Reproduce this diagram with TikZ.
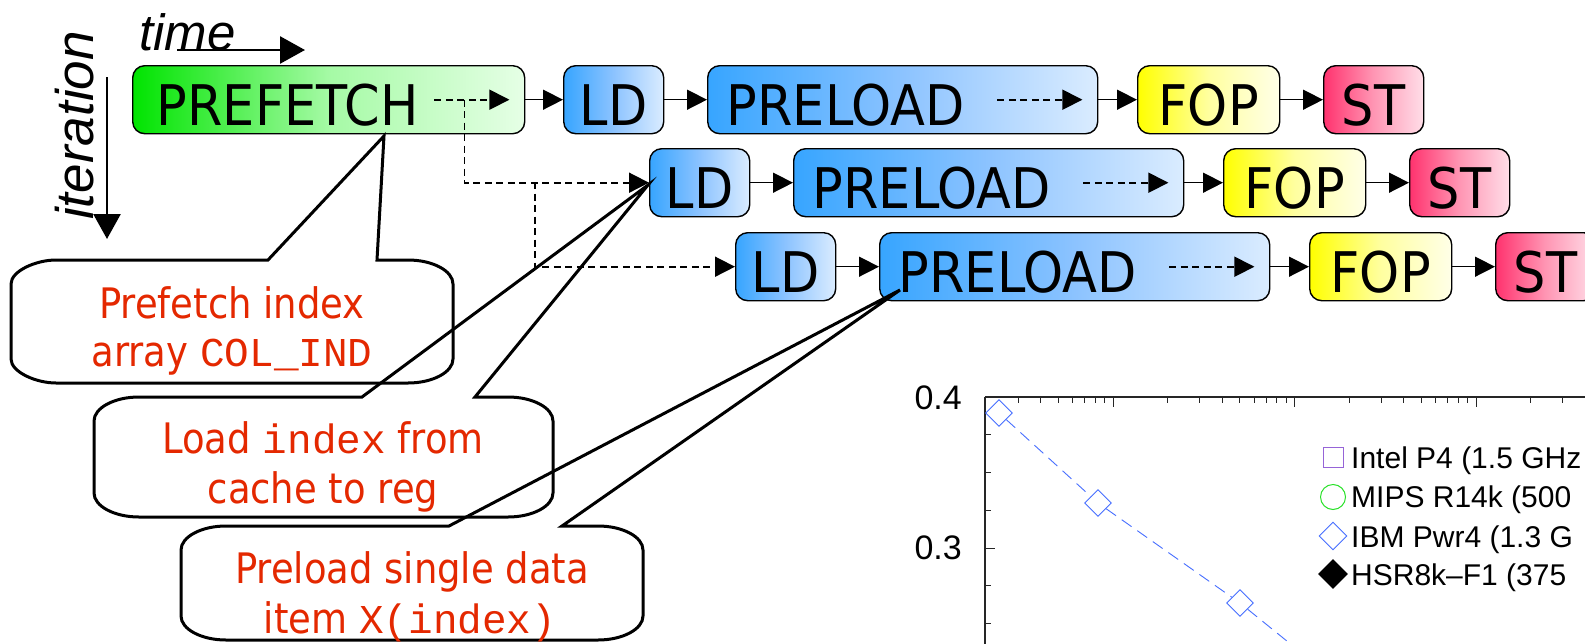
\documentclass[tikz,border=0pt]{standalone}
\usepackage{fontspec}
\setmainfont{Liberation Sans}
\newfontfamily\boxfont[FakeStretch=0.91]{DejaVu Sans}
\newfontfamily\callfont[FakeStretch=0.88]{DejaVu Sans}
\newfontfamily\codefont{Liberation Mono}
\usetikzlibrary{arrows.meta,shapes.geometric}
\definecolor{pfL}{RGB}{0,228,0}
\definecolor{pfM}{RGB}{165,250,165}
\definecolor{pfR}{RGB}{230,255,230}
\definecolor{blL}{RGB}{55,165,255}
\definecolor{blM}{RGB}{140,195,255}
\definecolor{blR}{RGB}{218,236,255}
\definecolor{yeL}{RGB}{255,255,0}
\definecolor{yeM}{RGB}{255,255,160}
\definecolor{yeR}{RGB}{255,255,232}
\definecolor{stL}{RGB}{255,50,110}
\definecolor{stM}{RGB}{255,150,180}
\definecolor{stR}{RGB}{255,222,232}
\definecolor{callred}{RGB}{228,40,0}
\definecolor{plotblue}{RGB}{70,110,255}
\definecolor{plotpurple}{RGB}{150,100,215}
\definecolor{plotgreen}{RGB}{40,225,40}
\newcommand{\codetxt}[1]{{\codefont\fontsize{41}{41}\selectfont #1}}
\begin{document}
\begin{tikzpicture}[x=1pt,y=-1pt,
 stage/.style={draw=black, line width=1.4pt, rounded corners=12pt, minimum height=68pt,
   inner ysep=0pt, anchor=north west, font=\boxfont\fontsize{56}{56}\selectfont,
   text height=51pt, text depth=0pt},
 cstage/.style={stage, inner xsep=0pt, align=center},
 pfshade/.style={left color=pfL, right color=pfR, middle color=pfM},
 ldshade/.style={left color=blL, right color=blR, middle color=blM},
 fopshade/.style={left color=yeL, right color=yeR, middle color=yeM},
 stshade/.style={left color=stL, right color=stR, middle color=stM},
 conn/.style={line width=1.5pt, -{Triangle[length=20pt,width=20pt]}},
 dconn/.style={conn, line width=1.7pt, dash pattern=on 7pt off 4.5pt},
 bigarrow/.style={line width=2.6pt, -{Triangle[length=25pt,width=27pt]}},
 callout/.style={line width=3pt},
 calltext/.style={text=callred, anchor=base, inner sep=0pt, font=\callfont\fontsize{42}{42}\selectfont},
 dia/.style={diamond, draw=plotblue, fill=white, line width=0.9pt, minimum width=27pt, minimum height=27pt, inner sep=0pt},
 legtext/.style={anchor=base west, inner sep=0pt, font=\fontsize{30}{30}\selectfont},
 ylab/.style={anchor=east, inner sep=0pt, font=\fontsize{34}{34}\selectfont},
 axisline/.style={line width=1.1pt, black!85},
]
\useasboundingbox (0,0) rectangle (1585,643);
\fill[white] (0,0) rectangle (1585,643);

% axes labels
\node[anchor=base west, inner sep=0pt, font=\itshape\fontsize{51}{51}\selectfont] (time) at (139,50) {time};
\node[rotate=90, anchor=base west, inner sep=0pt, font=\itshape\fontsize{53}{53}\selectfont] (iter) at (93,220) {iteration};
\coordinate (ta1) at (177,50);
\coordinate (ta2) at (305,50);
\draw[bigarrow] (ta1) -- (ta2);
\coordinate (ia1) at (107,77);
\coordinate (ia2) at (107,239);
\draw[bigarrow] (ia1) -- (ia2);

% row 1
\node[stage, pfshade, inner xsep=24pt, text width=344pt, align=left] (pf) at (132,65) {PREFETCH};
\node[cstage, ldshade, minimum width=100pt] (ld1) at (563,65) {LD};
\node[stage, ldshade, inner xsep=19pt, text width=352pt, align=left] (pl1) at (707,65) {PRELOAD};
\node[cstage, fopshade, minimum width=142pt] (fop1) at (1137,65) {FOP};
\node[cstage, stshade, minimum width=100pt] (st1) at (1323,65) {ST};
% row 2
\node[cstage, ldshade, minimum width=100pt] (ld2) at (649,148) {LD};
\node[stage, ldshade, inner xsep=19pt, text width=352pt, align=left] (pl2) at (793,148) {PRELOAD};
\node[cstage, fopshade, minimum width=142pt] (fop2) at (1223,148) {FOP};
\node[cstage, stshade, minimum width=100pt] (st2) at (1409,148) {ST};
% row 3
\node[cstage, ldshade, minimum width=100pt] (ld3) at (735,232) {LD};
\node[stage, ldshade, inner xsep=19pt, text width=352pt, align=left] (pl3) at (879,232) {PRELOAD};
\node[cstage, fopshade, minimum width=142pt] (fop3) at (1309,232) {FOP};
\node[cstage, stshade, minimum width=100pt] (st3) at (1495,232) {ST};

% connectors
\draw[conn] (pf.east) -- (ld1.west);
\foreach \i in {1,2,3}{
  \draw[conn] (ld\i.east) -- (pl\i.west);
  \draw[conn] (pl\i.east) -- (fop\i.west);
  \draw[conn] (fop\i.east) -- (st\i.west);
  \draw[dconn] ([xshift=-101pt]pl\i.east) -- ([xshift=-16pt]pl\i.east);
}
\coordinate (pfd1) at ([xshift=-91pt]pf.east);
\coordinate (pfd2) at ([xshift=-16pt]pf.east);
\draw[dconn] (pfd1) -- (pfd2);
\coordinate (pfbr) at ([xshift=-61pt]pf.east);
\draw[dconn] (pfbr) |- (ld2.west);
\coordinate (br2) at (535,182);
\draw[dconn] (br2) |- (ld3.west);

% callouts
\draw[callout] (268,260) -- (384,136) -- (377,260) -- (408,260)
  .. controls (433,260) and (453,271) .. (453,284) -- (453,359)
  .. controls (453,372) and (433,383) .. (408,383) -- (56,383)
  .. controls (36,383) and (11,372) .. (11,359) -- (11,284)
  .. controls (11,271) and (36,260) .. (56,260) -- cycle;
\draw[callout] (362,397) -- (648,185) -- (475,397) -- (508,397)
  .. controls (533,397) and (553,408) .. (553,421) -- (553,493)
  .. controls (553,506) and (533,517) .. (508,517) -- (139,517)
  .. controls (114,517) and (94,506) .. (94,493) -- (94,421)
  .. controls (94,408) and (114,397) .. (139,397) -- cycle;
\draw[callout] (449,526) -- (900,290) -- (562,526) -- (598,526)
  .. controls (623,526) and (643,537) .. (643,550) -- (643,616)
  .. controls (643,629) and (623,640) .. (598,640) -- (226,640)
  .. controls (201,640) and (181,629) .. (181,616) -- (181,550)
  .. controls (181,537) and (201,526) .. (226,526) -- cycle;

\node[calltext] (c1a) at (232,318) {Prefetch index};
\node[calltext] (c1b) at (232,366) {array \codetxt{COL\_IND}};
\node[calltext] (c2a) at (323,453) {Load \codetxt{index} from};
\node[calltext] (c2b) at (323,503) {cache to reg};
\node[calltext] (c3a) at (412,583) {Preload single data};
\node[calltext] (c3b) at (410,633) {item \codetxt{X(index)}};

% plot
\draw[axisline] (985,397) -- (1590,397);
\draw[axisline] (985,397) -- (985,650);
\foreach \x in {1018.1,1040.8,1058.4,1072.7,1084.9,1095.4,1104.7,
                1167.6,1199.6,1222.3,1239.9,1254.2,1266.4,1276.9,1286.2,
                1349.1,1381.1,1403.8,1421.4,1435.7,1447.9,1458.4,1467.7,
                1530.6,1562.6}
  \draw[axisline, line width=0.9pt] (\x,397) -- (\x,403);
\foreach \x in {1113,1294.5,1476}
  \draw[axisline, line width=0.9pt] (\x,397) -- (\x,407);
\foreach \y in {434.75,472.5,510.25,585.75,623.5}
  \draw[axisline, line width=0.9pt] (985,\y) -- (991,\y);
\draw[axisline, line width=0.9pt] (985,548) -- (995,548);
\node[ylab] (y04) at (962,398) {0.4};
\node[ylab] (y03) at (962,548) {0.3};

\coordinate (dend) at (1293,646);
\node[dia] (d1) at (999,413) {};
\node[dia] (d2) at (1098,503) {};
\node[dia] (d3) at (1240,603) {};
\draw[plotblue, line width=0.9pt, dash pattern=on 12pt off 7pt] (d1) -- (d2) -- (d3) -- (dend);

% legend
\node[draw=plotpurple, line width=1pt, minimum size=20pt, inner sep=0pt] (lg1) at (1333,457) {};
\node[circle, draw=plotgreen, line width=1pt, minimum size=25pt, inner sep=0pt] (lg2) at (1333,497) {};
\node[dia, minimum width=28pt, minimum height=28pt] (lg3) at (1333,536) {};
\node[diamond, fill=black, minimum width=30pt, minimum height=30pt, inner sep=0pt] (lg4) at (1333,574) {};
\node[legtext] (lt1) at (1351,468) {Intel P4 (1.5 GHz};
\node[legtext] (lt2) at (1351,507) {MIPS R14k (500};
\node[legtext] (lt3) at (1351,547) {IBM Pwr4 (1.3 G};
\node[legtext] (lt4) at (1351,585) {HSR8k–F1 (375};
\end{tikzpicture}
\end{document}
